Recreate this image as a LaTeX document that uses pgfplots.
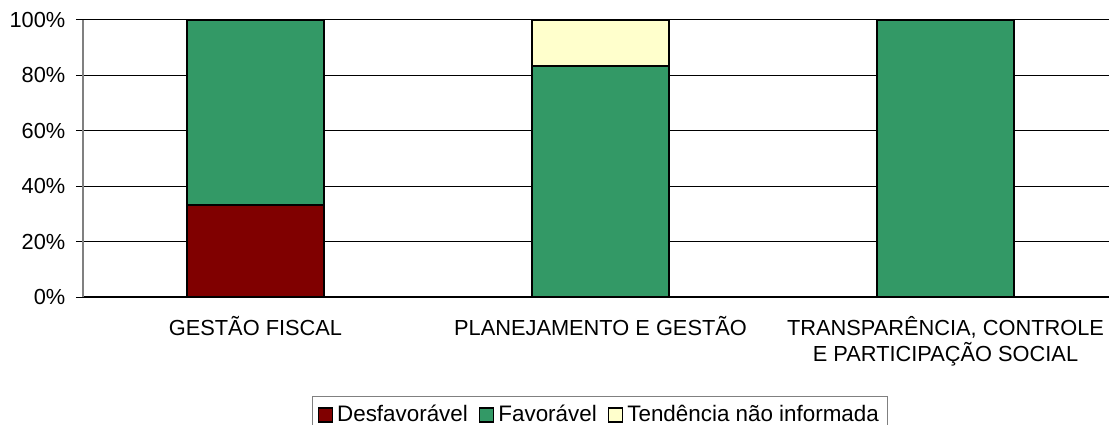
\documentclass[border=0pt]{standalone}
\usepackage{fontspec}
\setmainfont{Liberation Sans}
\usepackage{pgfplots}
\pgfplotsset{compat=1.18}
\definecolor{cRed}{HTML}{800000}
\definecolor{cGreen}{HTML}{339966}
\definecolor{cYellow}{HTML}{FFFFCC}
\begin{document}
\fontsize{10.9bp}{12.5bp}\selectfont
\begin{tikzpicture}
\useasboundingbox (0,0) rectangle (554.5bp,212.5bp);
\begin{axis}[
  at={(41.5bp,64bp)}, anchor=south west,
  scale only axis,
  width=517.5bp, height=138.5bp,
  xmin=-0.5, xmax=2.5, ymin=0, ymax=100,
  ybar stacked, bar width=68.5bp,
  axis x line*=bottom, axis y line*=left,
  x axis line style={black, line width=0.6bp, -},
  y axis line style={gray, line width=0.6bp, -},
  xtick={0,1,2},
  xticklabels={GESTÃO FISCAL, PLANEJAMENTO E GESTÃO, {TRANSPARÊNCIA, CONTROLE\\E PARTICIPAÇÃO SOCIAL}},
  xticklabel style={align=center, font=\fontsize{10.9bp}{12.7bp}\selectfont, yshift=-2.5bp},
  x tick style={draw=none},
  extra x ticks={-0.5,0.5,1.5,2.5},
  extra x tick labels={},
  extra x tick style={grid=none, tick style={draw=gray, line width=0.6bp}, major tick length=3.5bp},
  ytick={0,20,40,60,80,100},
  yticklabels={0\%,20\%,40\%,60\%,80\%,100\%},
  yticklabel style={font=\fontsize{10.9bp}{12.5bp}\selectfont, xshift=-1.5bp},
  y tick style={black, line width=0.5bp},
  tick align=outside, major tick length=3.5bp,
  ymajorgrids, major grid style={black, line width=0.5bp},
  legend style={at={(0.2213,-0.357)}, anchor=north west, draw=gray, line width=0.5bp,
    font=\fontsize{11.2bp}{12.5bp}\selectfont, legend columns=-1,
    /tikz/every even column/.append style={column sep=3.5bp},
    inner xsep=2.5bp, inner ysep=2.5bp},
  legend image code/.code={\draw[#1, line width=0.8bp] (0bp,-3.5bp) rectangle (7bp,3.5bp);},
]
\addplot[fill=cRed, draw=black, line width=1bp] coordinates {(0,33.33) (1,0) (2,0)};
\addplot[fill=cGreen, draw=black, line width=1bp] coordinates {(0,66.67) (1,83.33) (2,100)};
\addplot[fill=cYellow, draw=black, line width=1bp] coordinates {(0,0) (1,16.67) (2,0)};
\legend{Desfavorável, Favorável, Tendência não informada}
\end{axis}
\end{tikzpicture}
\end{document}
